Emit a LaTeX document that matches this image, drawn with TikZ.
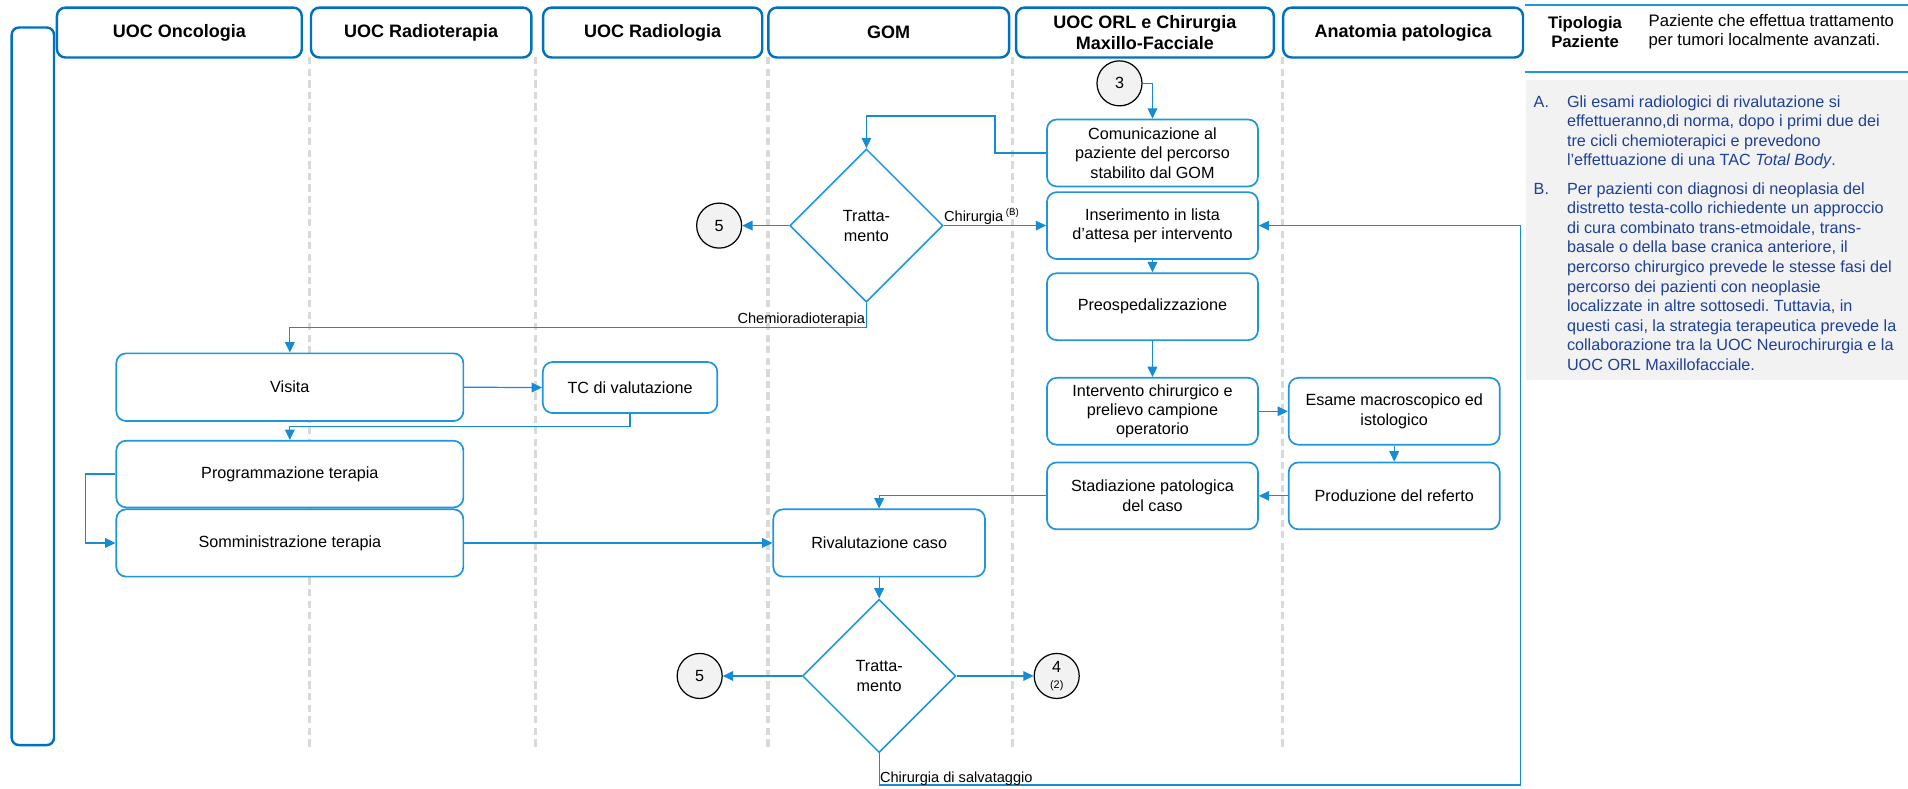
\documentclass[tikz,border=0pt]{standalone}
\usepackage{fontspec}
\setmainfont{Liberation Sans}
\usetikzlibrary{shapes.geometric,arrows.meta}
\frenchspacing

\definecolor{hdrblue}{RGB}{0,112,192}
\definecolor{boxblue}{RGB}{30,150,220}
\definecolor{linkblue}{RGB}{22,140,212}
\definecolor{notetext}{RGB}{31,64,153}
\definecolor{panelgray}{RGB}{242,242,242}
\definecolor{lanegray}{RGB}{217,217,217}

\newcommand{\fsz}[2]{\fontsize{#1}{#2}\selectfont}

\begin{document}
\begin{tikzpicture}[x=1pt,y=-1pt,
  lane/.style={draw=lanegray, line width=2.8pt, dash pattern=on 6pt off 3.5pt},
  header/.style={draw=hdrblue, line width=2pt, rounded corners=7pt, fill=white,
    font=\fsz{14.8}{17.3}\bfseries, align=center, inner sep=0pt, minimum height=41pt},
  stepbox/.style={draw=boxblue, line width=1.4pt, rounded corners=8pt, fill=white,
    font=\fsz{13.3}{16}, align=center, inner sep=0pt},
  rstep/.style={stepbox, minimum width=173.4pt, minimum height=55pt},
  decision/.style={diamond, aspect=1, draw=boxblue, line width=1.3pt, fill=white,
    minimum width=126pt, minimum height=126pt, inner sep=0pt,
    font=\fsz{13.3}{16.4}, align=center},
  offpage/.style={circle, draw=black, line width=1pt, fill=panelgray,
    minimum size=37pt, inner sep=0pt, font=\fsz{13.3}{16}, align=center},
  flow/.style={draw=linkblue, line width=1pt, -{Triangle[length=8.5pt,width=8pt]}},
  lbl/.style={font=\fsz{12}{14}, inner sep=1pt},
]
\useasboundingbox (0,0) rectangle (1568,648);

% swimlane separators
\foreach \lx in {254.5,440.2,631,832.3,1053.8}
  \draw[lane] (\lx,47) -- (\lx,616);

% lane headers
\node[header, minimum width=201.2pt] (hOnc)  at (147.4,26.75)  {UOC Oncologia};
\node[header, minimum width=181.1pt] (hRadt) at (346.15,26.75) {UOC Radioterapia};
\node[header, minimum width=180.1pt] (hRadl) at (536.35,26.75) {UOC Radiologia};
\node[header, minimum width=197.9pt] (hGom)  at (730.35,26.75) {GOM};
\node[header, minimum width=211.8pt] (hOrl)  at (940.9,26.75)  {UOC ORL e Chirurgia\\Maxillo-Facciale};
\node[header, minimum width=197.1pt] (hAnat) at (1153.05,26.75) {Anatomia patologica};

% side band
\node[draw=hdrblue, line width=2pt, rounded corners=6pt, minimum width=34.8pt,
      minimum height=589.7pt, inner sep=0pt] (side) at (27,317.45) {};

% patient type panel
\draw[boxblue, line width=1.6pt] (1253,3.8) -- (1568,3.8);
\draw[boxblue, line width=1.6pt] (1253,59.2) -- (1568,59.2);
\node[font=\fsz{13.7}{15.6}\bfseries, align=center, inner sep=0pt] (tipo) at (1302.6,26.4) {Tipologia\\Paziente};
\node[font=\fsz{13.7}{15.6}, align=left, anchor=west, inner sep=0pt] (tipodesc) at (1354.7,26.4)
  {Paziente che effettua trattamento\\per tumori localmente avanzati.};

% notes panel
\fill[panelgray] (1254,65.7) rectangle (1568,312.5);
\begin{scope}[every node/.style={anchor=base west, inner sep=0pt, text=notetext, font=\fsz{13.3}{15.9}}]
\node (noteA) at (1260.2,88.3) {A.};
\node (noteAtxt) at (1287.6,88.3) {\parbox[t]{275pt}{\raggedright
  Gli esami radiologici di rivalutazione si\\
  effettueranno,di norma, dopo i primi due dei\\
  tre cicli chemioterapici e prevedono\\
  l’effettuazione di una TAC \textit{Total Body}.}};
\node (noteB) at (1260.2,159.6) {B.};
\node (noteBtxt) at (1287.6,159.6) {\parbox[t]{275pt}{\raggedright\fsz{13.3}{16.1}
  Per pazienti con diagnosi di neoplasia del\\
  distretto testa-collo richiedente un approccio\\
  di cura combinato trans-etmoidale, trans-\\
  basale o della base cranica anteriore, il\\
  percorso chirurgico prevede le stesse fasi del\\
  percorso dei pazienti con neoplasie\\
  localizzate in altre sottosedi. Tuttavia, in\\
  questi casi, la strategia terapeutica prevede la\\
  collaborazione tra la UOC Neurochirurgia e la\\
  UOC ORL Maxillofacciale.}};
\end{scope}

% process steps
\node[rstep] (comm)   at (947.1,125.7)  {Comunicazione al\\paziente del percorso\\stabilito dal GOM};
\node[rstep] (ins)    at (947.1,185.4)  {Inserimento in lista\\d’attesa per intervento};
\node[rstep] (preosp) at (947.1,252)    {Preospedalizzazione};
\node[rstep] (interv) at (947.1,338)    {Intervento chirurgico e\\prelievo campione\\operatorio};
\node[rstep] (esame)  at (1145.75,338)  {Esame macroscopico ed\\istologico};
\node[rstep] (prod)   at (1145.75,407.5) {Produzione del referto};
\node[rstep] (stad)   at (947.1,407.5)  {Stadiazione patologica\\del caso};
\node[stepbox, minimum width=285.2pt, minimum height=55.6pt] (visita) at (238.2,318.2) {Visita};
\node[stepbox, minimum width=143.4pt, minimum height=41.9pt] (tc) at (517.8,318.5) {TC di valutazione};
\node[stepbox, minimum width=285.2pt, minimum height=54.8pt] (prog) at (238.2,389.6) {Programmazione terapia};
\node[stepbox, minimum width=285.2pt, minimum height=55.3pt] (somm) at (238.2,446.2) {Somministrazione terapia};
\node[stepbox, minimum width=174pt, minimum height=55.3pt] (rival) at (722.5,446.2) {Rivalutazione caso};

% decisions
\node[decision] (d1) at (712,185.4) {Tratta-\\mento};
\node[decision] (d2) at (722.5,555.5) {Tratta-\\mento};

% off-page connectors
\node[offpage] (c3)  at (920,68.5)   {3};
\node[offpage] (c5a) at (591,185.4)  {5};
\node[offpage] (c5b) at (575,555.5)  {5};
\node[offpage] (c4)  at (868.4,555.5) {4\\[-2.5pt]{\fsz{9}{10}(2)}};

% bend points
\coordinate (k1) at (817.7,95.3);
\coordinate (k2) at (712,269.3);
\coordinate (k3) at (517.8,350.7);
\coordinate (k4) at (70.1,389.6);
\coordinate (k5) at (722.5,645.1);
\coordinate (k6) at (1249.5,645.1);

% connectors
\draw[flow] (c3.east) -| (comm.north);
\draw[flow] (comm.west) -| (k1) -| (d1.north);
\draw[flow] (d1.west) -- (c5a.east);
\draw[flow] (d1.east) -- (ins.west);
\draw[flow] (d1.south) -- (k2) -| (visita.north);
\draw[flow] (ins.south) -- (preosp.north);
\draw[flow] (preosp.south) -- (interv.north);
\draw[flow] (interv.east) -- (esame.west);
\draw[flow] (esame.south) -- (prod.north);
\draw[flow] (prod.west) -- (stad.east);
\draw[flow] (stad.west) -| (rival.north);
\draw[flow] (visita.east) -- (tc.west);
\draw[flow] (tc.south) -- (k3) -| (prog.north);
\draw[flow] (prog.west) -- (k4) |- (somm.west);
\draw[flow] (somm.east) -- (rival.west);
\draw[flow] (rival.south) -- (d2.north);
\draw[flow] (d2.west) -- (c5b.east);
\draw[flow] (d2.east) -- (c4.west);
\draw[flow] (d2.south) -- (k5) -- (k6) |- (ins.east);

% connector labels
\node[lbl, anchor=south west, inner xsep=0pt] (lchir) at (d1.east) {Chirurgia\,\textsuperscript{(B)}};
\node[lbl, anchor=south east] (lchemio) at (k2) {Chemioradioterapia};
\node[lbl, anchor=base west, inner sep=0pt] (lsalv) at (723,643.3) {Chirurgia di salvataggio};
\end{tikzpicture}
\end{document}
